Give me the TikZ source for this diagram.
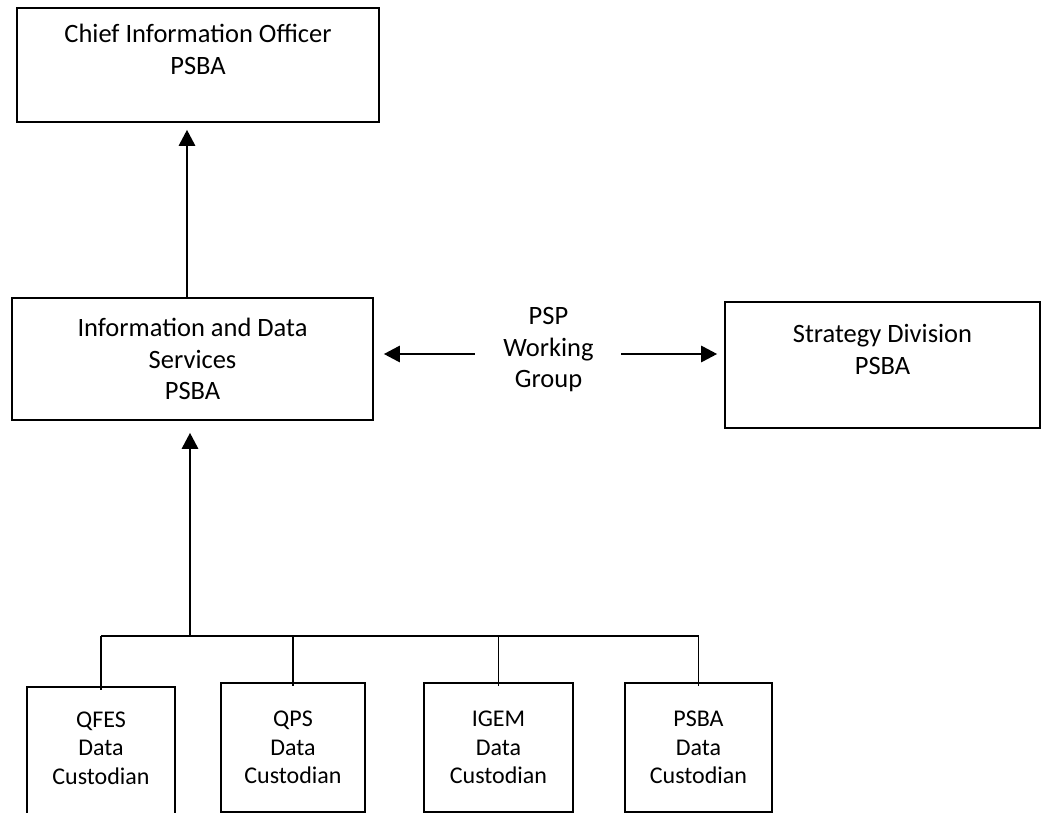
\documentclass[tikz,border=0pt]{standalone}
\usepackage{fontspec}
\setmainfont{Carlito}
\usetikzlibrary{arrows.meta}
\begin{document}
\begin{tikzpicture}[x=1pt,y=-1pt,
boxstyle/.style={draw,line width=1.6pt,align=center,inner sep=0pt,font=\fontsize{26.5}{31.5}\selectfont},
custstyle/.style={boxstyle,minimum width=147,minimum height=129,font=\fontsize{24}{28.5}\selectfont},
arrowstyle/.style={line width=2.8pt,-{Triangle[length=16pt,width=16pt]}}]
\useasboundingbox (0,0) rectangle (1043,813);

\node[boxstyle,minimum width=362,minimum height=114](cio) at (198,65){Chief Information Officer\\PSBA\\ \mbox{}};
\node[boxstyle,minimum width=361,minimum height=122](ids) at (192.5,359){Information and Data\\Services\\PSBA};
\node[boxstyle,draw=none](psp) at (548.5,350){PSP\\Working\\Group};
\node[boxstyle,minimum width=315,minimum height=126](strat) at (882.5,365){Strategy Division\\PSBA\\ \mbox{}};

\node[custstyle,minimum width=148,minimum height=150](qfes) at (101,762){QFES\\Data\\Custodian\\ \mbox{}};
\node[custstyle,minimum width=144](qps) at (293,747.5){QPS\\Data\\Custodian};
\node[custstyle,minimum width=149](igem) at (498.5,747.5){IGEM\\Data\\Custodian};
\node[custstyle](psba) at (698.5,747.5){PSBA\\Data\\Custodian};

\coordinate (bus) at (190,636);
\draw[arrowstyle,shorten >=7pt] ([xshift=-5.5pt]ids.north) -- ([xshift=-11pt]cio.south);
\draw[arrowstyle,shorten <=28pt,shorten >=10pt] ([yshift=-4pt]psp.west) -- ([yshift=-4pt]psp.west -| ids.east);
\draw[arrowstyle,shorten <=27pt,shorten >=7pt] ([yshift=-4pt]psp.east) -- ([yshift=-4pt]psp.east -| strat.west);
\draw[arrowstyle,shorten >=12pt] (bus) -- (bus |- ids.south);
\draw[line width=1.6pt] (qfes.north |- bus) -- (psba.north |- bus);
\foreach \c in {qfes,qps,igem,psba}
 \draw[line width=1.6pt] (\c.north |- bus) -- ([yshift=-4pt]\c.north);

\end{tikzpicture}
\end{document}
